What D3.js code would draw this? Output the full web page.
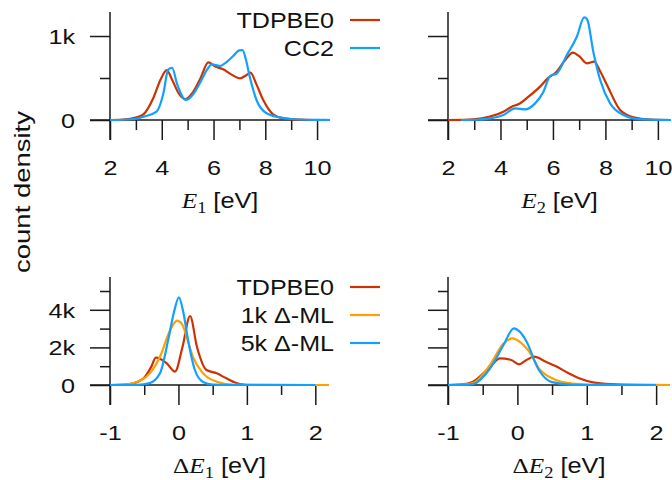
<!DOCTYPE html>
<html>
<head>
<meta charset="utf-8">
<script src="https://cdn.jsdelivr.net/npm/d3@7"></script>
<style>
html,body{margin:0;padding:0;background:#fff;}
svg{display:block;}
</style>
</head>
<body>
<svg id="chart" width="672" height="480"></svg>
<script>
// ---------- data ----------
const seriesNamesTop = ["TDPBE0", "CC2"];
const seriesNamesBottom = ["TDPBE0", "1k \u0394-ML", "5k \u0394-ML"];

const e1TDPBE0 = [[2,0],[2.5,5],[3,30],[3.3,70],[3.67,260],[3.95,480],[4.19,595],[4.4,480],[4.65,320],[4.9,250],[5.2,330],[5.5,500],[5.8,687],[6.05,640],[6.37,603],[6.7,540],[7.02,496],[7.25,530],[7.43,563],[7.65,430],[7.92,238],[8.3,68],[8.7,20],[9.5,3],[10.5,0]];
const e1CC2 = [[2,0],[2.5,3],[3,15],[3.3,40],[3.8,100],[4.05,300],[4.25,600],[4.4,620],[4.6,420],[4.93,238],[5.2,300],[5.47,437],[5.75,600],[5.93,663],[6.25,643],[6.5,690],[6.76,762],[7.0,830],[7.12,833],[7.25,720],[7.4,516],[7.66,238],[8.05,80],[8.56,32],[9,12],[10,2],[10.5,0]];

const e2TDPBE0 = [[2,0],[2.97,8],[3.6,40],[4.11,99],[4.43,159],[4.68,187],[5.07,278],[5.51,397],[5.83,504],[6.08,556],[6.47,714],[6.76,802],[7.0,760],[7.29,675],[7.57,694],[7.8,580],[8.06,417],[8.56,119],[9.07,32],[9.7,5],[10.5,0]];
const e2CC2 = [[2.5,0],[3,3],[3.6,20],[4.11,60],[4.56,139],[4.94,127],[5.32,198],[5.64,337],[5.89,524],[6.15,556],[6.53,774],[6.91,992],[7.19,1222],[7.3,1200],[7.55,794],[7.8,476],[8.18,198],[8.69,60],[9.3,10],[10.5,0]];

const de1TDPBE0 = [[-1,0],[-0.85,10],[-0.71,53],[-0.51,355],[-0.4,950],[-0.33,1454],[-0.17,1152],[-0.05,709],[0.06,2039],[0.17,3670],[0.27,2039],[0.41,798],[0.56,620],[0.7,355],[0.9,53],[1.1,5],[2.0,0]];
const de1ML1k = [[-1,0],[-0.8,20],[-0.66,100],[-0.42,620],[-0.27,1507],[-0.12,2925],[-0.02,3422],[0.05,3250],[0.12,2570],[0.21,1507],[0.36,620],[0.56,177],[0.8,20],[1.2,0],[2.2,0]];
const de1ML5k = [[-1,0],[-0.6,10],[-0.42,100],[-0.27,620],[-0.15,2394],[-0.07,3800],[0.007,4663],[0.07,3900],[0.14,2394],[0.24,798],[0.36,160],[0.5,20],[0.8,0],[2.0,0]];

const de2TDPBE0 = [[-1,0],[-0.8,30],[-0.64,177],[-0.4,940],[-0.25,1418],[-0.09,1330],[0.025,1100],[0.12,1300],[0.24,1507],[0.41,1241],[0.55,1010],[0.74,620],[0.89,355],[1.09,142],[1.35,50],[1.8,10],[2.2,0]];
const de2ML1k = [[-1,0],[-0.8,20],[-0.64,100],[-0.4,1046],[-0.2,2200],[-0.07,2482],[0.05,2250],[0.17,1773],[0.31,886],[0.5,355],[0.8,70],[1.2,5],[2.2,0]];
const de2ML5k = [[-1,0],[-0.8,10],[-0.64,50],[-0.4,850],[-0.2,2128],[-0.05,3014],[0.03,2850],[0.12,2394],[0.31,798],[0.5,150],[0.8,10],[1.2,0],[2.0,0]];

const topXMajor = [2,4,6,8,10];
const topXMinor = [3,5,7,9];
const topYMajor = [0,1000];
const topYMinor = [500];
const botXMajor = [-1,0,1,2];
const botXMinor = [-0.5,0.5,1.5];
const botYMajor = [0,2000,4000];
const botYMinor = [1000,3000,5000];
const fmtK = v => v === 0 ? "0" : (v/1000) + "k";
const fmtX = v => String(v);   // plain hyphen-minus like the reference

const colors = {red:"#cc3300", orange:"#ffa000", blue:"#11a0ff"};

// ---------- drawing ----------
const svg = d3.select("#chart");
const FONT = "'Liberation Sans', Arial, sans-serif";
const SERIF = "'Liberation Serif', 'Times New Roman', serif";
const TICK_SX = 1.2;    // reference glyphs are wider than Liberation Sans
const LEG_SX = 1.14;
const TITLE_SX = 1.15;

const panels = [
  {x0:110, x1:330, yTop:12, yZero:120, xd:[2,10.5], yd:[0,1286], xMaj:topXMajor, xMin:topXMinor, yMaj:topYMajor, yMin:topYMinor, ylabels:true,
   series:[[e1TDPBE0,colors.red],[e1CC2,colors.blue]], title:{delta:false, sub:"1"}},
  {x0:448, x1:671, yTop:12, yZero:120, xd:[2,10.5], yd:[0,1286], xMaj:topXMajor, xMin:topXMinor, yMaj:topYMajor, yMin:topYMinor, ylabels:false,
   series:[[e2TDPBE0,colors.red],[e2CC2,colors.blue]], title:{delta:false, sub:"2"}},
  {x0:110, x1:329, yTop:277, yZero:385, xd:[-1,2.2], yd:[0,5745], xMaj:botXMajor, xMin:botXMinor, yMaj:botYMajor, yMin:botYMinor, ylabels:true,
   series:[[de1TDPBE0,colors.red],[de1ML1k,colors.orange],[de1ML5k,colors.blue]], title:{delta:true, sub:"1"}},
  {x0:448, x1:670, yTop:277, yZero:385, xd:[-1,2.2], yd:[0,5745], xMaj:botXMajor, xMin:botXMinor, yMaj:botYMajor, yMin:botYMinor, ylabels:false,
   series:[[de2TDPBE0,colors.red],[de2ML1k,colors.orange],[de2ML5k,colors.blue]], title:{delta:true, sub:"2"}}
];

const axisColor = "#1a1a1a";

panels.forEach((p,i) => {
  const x = d3.scaleLinear().domain(p.xd).range([p.x0, p.x1]);
  const y = d3.scaleLinear().domain(p.yd).range([p.yZero, p.yTop]);
  const g = svg.append("g");

  // y axis (major ticks outward 20, minor 10)
  const gy = g.append("g").attr("transform", `translate(${p.x0},0)`)
    .call(d3.axisLeft(y).tickValues(p.yMaj).tickSize(20).tickSizeOuter(0).tickFormat(p.ylabels ? fmtK : () => ""));
  gy.select(".domain").remove();
  gy.selectAll("line").attr("stroke", axisColor).attr("stroke-width", 1.5);
  gy.selectAll("text").attr("x", -35 / TICK_SX).attr("dy", "0.36em").attr("transform", `scale(${TICK_SX},1)`)
    .attr("font-family", FONT).attr("font-size", 21).attr("fill", "#111");
  const gyMin = g.append("g").attr("transform", `translate(${p.x0},0)`)
    .call(d3.axisLeft(y).tickValues(p.yMin).tickSize(10).tickFormat(() => ""));
  gyMin.select(".domain").remove();
  gyMin.selectAll("line").attr("stroke", axisColor).attr("stroke-width", 1.5);

  // x axis (major ticks down 20, minor 10)
  const gx = g.append("g").attr("transform", `translate(0,${p.yZero})`)
    .call(d3.axisBottom(x).tickValues(p.xMaj).tickSize(20).tickFormat(fmtX));
  gx.select(".domain").remove();
  gx.selectAll("line").attr("stroke", axisColor).attr("stroke-width", 1.5);
  gx.selectAll("text").attr("y", 47).attr("dy", "0.36em").attr("transform", `scale(${TICK_SX},1)`)
    .attr("x", 0).attr("font-family", FONT).attr("font-size", 21).attr("fill", "#111");
  const gxMin = g.append("g").attr("transform", `translate(0,${p.yZero})`)
    .call(d3.axisBottom(x).tickValues(p.xMin).tickSize(10).tickFormat(() => ""));
  gxMin.select(".domain").remove();
  gxMin.selectAll("line").attr("stroke", axisColor).attr("stroke-width", 1.5);

  // axis lines: y line extends below zero, zero line extends left of the y axis
  g.append("line").attr("x1", p.x0).attr("x2", p.x0).attr("y1", y.range()[1]).attr("y2", p.yZero + 20)
    .attr("stroke", axisColor).attr("stroke-width", 1.5);
  g.append("line").attr("x1", p.x0 - 20).attr("x2", p.x1).attr("y1", p.yZero).attr("y2", p.yZero)
    .attr("stroke", axisColor).attr("stroke-width", 1.5);

  // curves
  const line = d3.line().x(d => x(d[0])).y(d => y(d[1])).curve(d3.curveMonotoneX);
  p.series.forEach(([data,col]) => {
    g.append("path").datum(data).attr("d", line).attr("fill", "none")
      .attr("stroke", col).attr("stroke-width", 2.2).attr("stroke-linejoin", "round");
  });

  // axis title
  const cx = (p.x0 + p.x1) / 2;
  const ty = p.yZero + 80;
  const t = g.append("text").attr("transform", `translate(${cx},${ty}) scale(${TITLE_SX},1)`)
    .attr("text-anchor", "middle").attr("dy", "0.36em").attr("font-size", 22).attr("fill", "#111");
  if (p.title.delta) t.append("tspan").attr("font-family", SERIF).text("\u0394");
  t.append("tspan").attr("font-family", SERIF).attr("font-style", "italic").text("E");
  t.append("tspan").attr("font-family", SERIF).attr("font-size", 16).attr("dy", "0.3em").text(p.title.sub);
  t.append("tspan").attr("font-family", FONT).attr("dy", "-0.22em").text(" [eV]");
});

// legends
function legend(names, cols, ys) {
  names.forEach((n,i) => {
    svg.append("text").attr("transform", `translate(334,${ys[i]}) scale(${LEG_SX},1)`).attr("dy", "0.36em")
      .attr("text-anchor", "end").attr("font-family", FONT).attr("font-size", 22).attr("fill", "#111").text(n);
    svg.append("line").attr("x1", 350).attr("x2", 380).attr("y1", ys[i]).attr("y2", ys[i])
      .attr("stroke", cols[i]).attr("stroke-width", 2.2);
  });
}
legend(seriesNamesTop, [colors.red, colors.blue], [20, 48]);
legend(seriesNamesBottom, [colors.red, colors.orange, colors.blue], [287, 315, 343]);

// y label
svg.append("text").attr("transform", "translate(22,192) rotate(-90) scale(1.25,1)").attr("text-anchor", "middle")
  .attr("dy", "0.36em").attr("font-family", FONT).attr("font-size", 22).attr("fill", "#111").text("count density");
</script>
</body>
</html>
